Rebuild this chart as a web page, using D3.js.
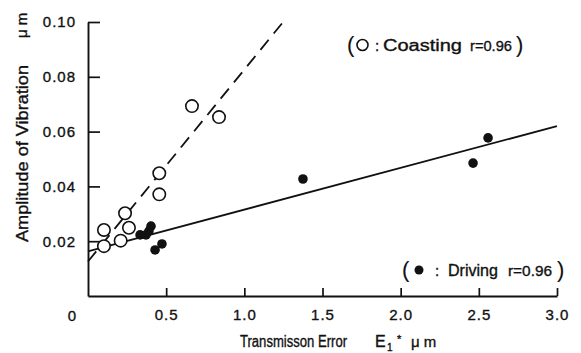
<!DOCTYPE html>
<html>
<head>
<meta charset="utf-8">
<script src="https://cdn.jsdelivr.net/npm/d3@7"></script>
<style>
  html, body { margin: 0; padding: 0; background: #fff; }
  svg { display: block; }
  text { font-family: "Liberation Sans", Arial, Helvetica, sans-serif; fill: #111; stroke: #111; stroke-width: 0.35px; }
</style>
</head>
<body>
<svg id="chart" width="581" height="353"></svg>
<script>
// ---- data ----
const coastingX = [0.102, 0.102, 0.209, 0.237, 0.262, 0.456, 0.456, 0.665, 0.838];
const coastingY = [0.0182, 0.0241, 0.0202, 0.0302, 0.0249, 0.0448, 0.0371, 0.0693, 0.0653];
const drivingX = [0.333, 0.371, 0.390, 0.403, 0.429, 0.473, 1.375, 2.463, 2.559];
const drivingY = [0.0223, 0.0223, 0.0237, 0.0255, 0.0168, 0.0190, 0.0427, 0.0485, 0.0577];
const coastFitX = [0, 1.248];
const coastFitY = [0.0126, 0.100];
const driveFitX = [0, 3.0];
const driveFitY = [0.0163, 0.062];
const xTicks = [0.5, 1.0, 1.5, 2.0, 2.5, 3.0];
const xTickLabels = ["0.5", "1.0", "1.5", "2.0", "2.5", "3.0"];
const yTicks = [0.02, 0.04, 0.06, 0.08, 0.10];
const yTickLabels = ["0.02", "0.04", "0.06", "0.08", "0.10"];
const originLabel = "0";
const xTitle = "Transmisson Error";
const yTitle = "Amplitude of Vibration";
const unitLabel = "μ m";
const legendCoasting = ["Coasting", "r=0.96"];
const legendDriving = ["Driving", "r=0.96"];

// ---- scales ----
const svg = d3.select("#chart");
const x = d3.scaleLinear().domain([0, 3]).range([88, 557]);
const y = d3.scaleLinear().domain([0, 0.1]).range([296, 22]);

// ---- axes ----
const yAxis = d3.axisLeft(y).tickValues(yTicks)
  .tickFormat((d, i) => yTickLabels[i])
  .tickSizeInner(-12).tickSizeOuter(0).tickPadding(12);
const gy = svg.append("g").attr("transform", `translate(${x(0)},0)`).call(yAxis);

const xAxis = d3.axisBottom(x).tickValues(xTicks)
  .tickFormat((d, i) => xTickLabels[i])
  .tickSizeInner(-8).tickSizeOuter(0).tickPadding(13);
const gx = svg.append("g").attr("transform", `translate(0,${y(0)})`).call(xAxis);

[gx, gy].forEach(g => {
  g.attr("font-family", null).attr("font-size", null);
  g.selectAll("path.domain").attr("stroke", "#111").attr("stroke-width", 1.9);
  g.selectAll(".tick line").attr("stroke", "#111").attr("stroke-width", 1.7);
  g.selectAll(".tick text").style("font-size", "15px").style("letter-spacing", "1px").attr("fill", "#111");
});

svg.append("text").attr("x", 72).attr("y", 320.5)
  .attr("text-anchor", "middle").style("font-size", "15px").text(originLabel);

// ---- fit lines ----
const line = d3.line().x(d => x(d[0])).y(d => y(d[1]));
svg.append("path")
  .datum(driveFitX.map((v, i) => [v, driveFitY[i]]))
  .attr("d", line).attr("fill", "none").attr("stroke", "#111").attr("stroke-width", 1.8);
svg.append("path")
  .datum(coastFitX.map((v, i) => [v, coastFitY[i]]))
  .attr("d", line).attr("fill", "none").attr("stroke", "#111").attr("stroke-width", 1.8)
  .attr("stroke-dasharray", "13,8");

// ---- points ----
svg.append("g").selectAll("circle")
  .data(drivingX.map((v, i) => [v, drivingY[i]]))
  .join("circle")
  .attr("cx", d => x(d[0])).attr("cy", d => y(d[1])).attr("r", 4.8)
  .attr("fill", "#111");
svg.append("g").selectAll("circle")
  .data(coastingX.map((v, i) => [v, coastingY[i]]))
  .join("circle")
  .attr("cx", d => x(d[0])).attr("cy", d => y(d[1])).attr("r", 6.2)
  .attr("fill", "#fff").attr("stroke", "#111").attr("stroke-width", 1.6);

// ---- axis titles ----
svg.append("text").attr("x", 240).attr("y", 347)
  .style("font-size", "16px").attr("textLength", 107).attr("lengthAdjust", "spacingAndGlyphs")
  .text(xTitle);
svg.append("text").attr("x", 375).attr("y", 347).style("font-size", "16px").text("E");
svg.append("text").attr("x", 387).attr("y", 351).style("font-size", "10px").text("1");
svg.append("text").attr("x", 397).attr("y", 343).style("font-size", "11px").text("*");
svg.append("text").attr("x", 411).attr("y", 347).style("font-size", "15px").text(unitLabel);

svg.append("text").attr("transform", "translate(28,242) rotate(-90)")
  .style("font-size", "16px").attr("textLength", 177).attr("lengthAdjust", "spacingAndGlyphs")
  .text(yTitle);
svg.append("text").attr("transform", "translate(27,38) rotate(-90)")
  .style("font-size", "15px").text(unitLabel);

// ---- legends ----
function legend(cy, parts) {
  const g = svg.append("g");
  g.append("text").attr("x", parts.lp).attr("y", cy + 7).style("font-size", "22px").style("stroke-width", "0.1px").text("(");
  g.append("text").attr("x", parts.rp).attr("y", cy + 7).style("font-size", "22px").style("stroke-width", "0.1px").text(")");
  g.append("text").attr("x", parts.colon).attr("y", cy + 5.5).style("font-size", "15px").text(":");
  g.append("text").attr("x", parts.n0).attr("y", cy + 5.5).style("font-size", "16px")
    .attr("textLength", parts.n1 - parts.n0).attr("lengthAdjust", "spacingAndGlyphs").text(parts.name);
  g.append("text").attr("x", parts.r0).attr("y", cy + 5.5).style("font-size", "15px")
    .attr("textLength", parts.r1 - parts.r0).attr("lengthAdjust", "spacingAndGlyphs").text(parts.r);
  return g;
}
const lg1 = legend(45, {lp: 347, rp: 516, colon: 375, n0: 383, n1: 462, r0: 470, r1: 512,
  name: legendCoasting[0], r: legendCoasting[1]});
lg1.append("circle").attr("cx", 362.5).attr("cy", 45).attr("r", 5.5)
  .attr("fill", "#fff").attr("stroke", "#111").attr("stroke-width", 1.6);
const lg2 = legend(270, {lp: 402, rp: 557, colon: 435, n0: 448, n1: 498, r0: 508, r1: 552,
  name: legendDriving[0], r: legendDriving[1]});
lg2.append("circle").attr("cx", 419).attr("cy", 270).attr("r", 4.5).attr("fill", "#111");
</script>
</body>
</html>
